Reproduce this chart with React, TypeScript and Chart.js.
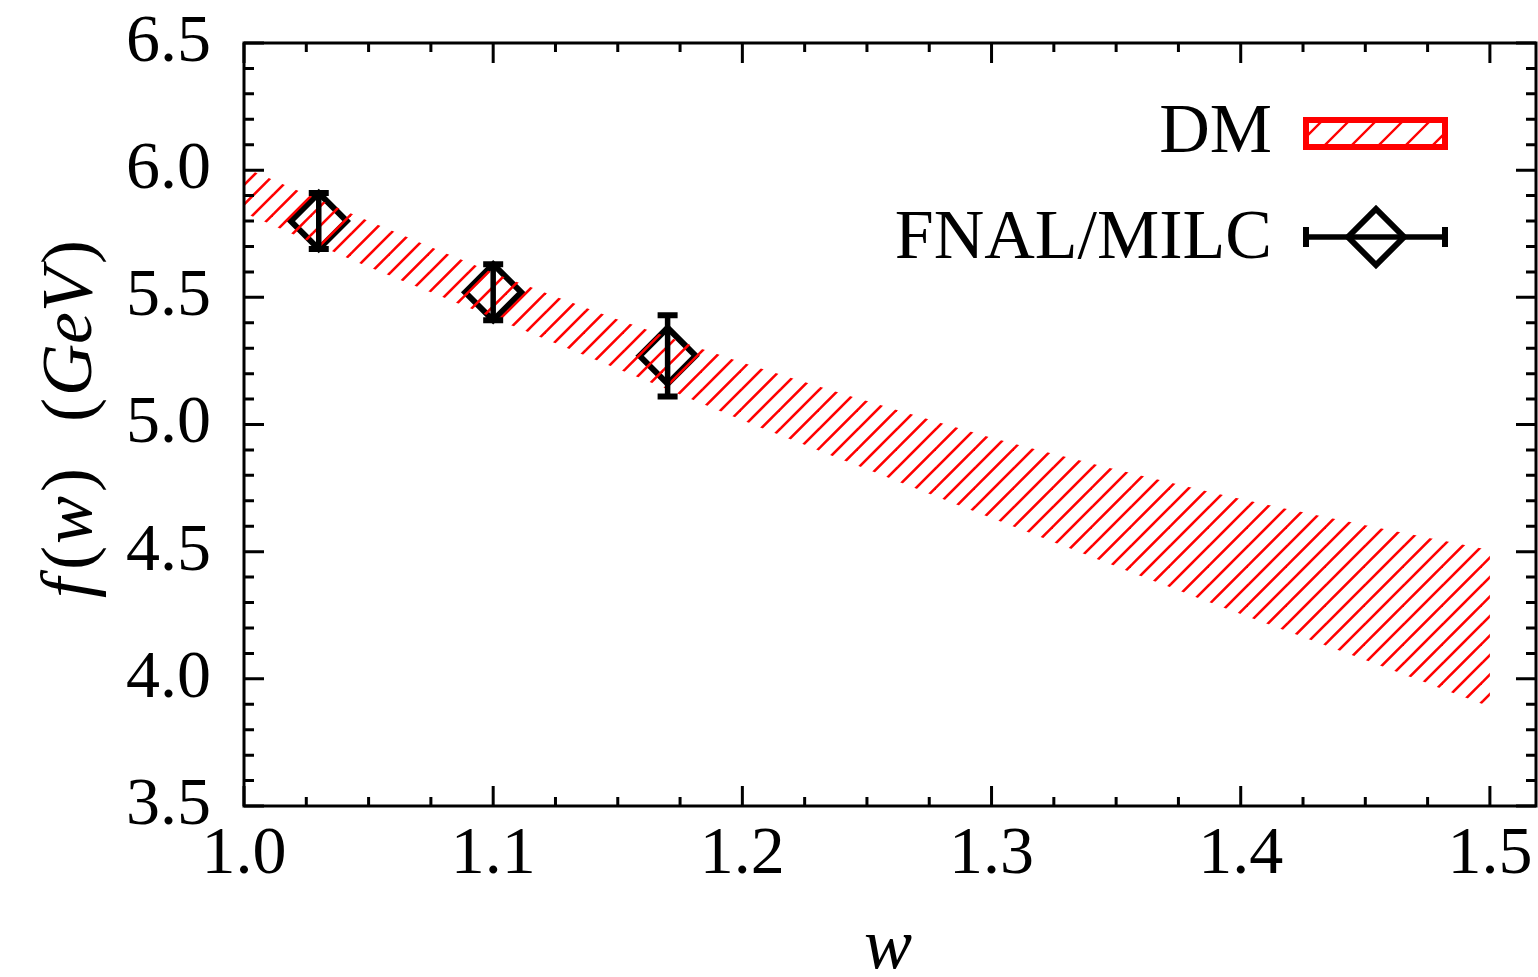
import React, { useEffect, useRef } from "react";
import { Chart, registerables } from "chart.js";

Chart.register(...registerables);

// ---- data ----
const bandW = [1.0, 1.05, 1.1, 1.15, 1.2, 1.25, 1.3, 1.35, 1.4, 1.45, 1.5];
const bandUpper = [6.01, 5.8, 5.597, 5.413, 5.244, 5.092, 4.948, 4.823, 4.707, 4.604, 4.507];
const bandLower = [5.833, 5.62, 5.42, 5.219, 5.017, 4.824, 4.632, 4.442, 4.255, 4.074, 3.89];

const latticeW = [1.03, 1.1, 1.17];
const latticeF = [5.8, 5.52, 5.27];
const latticeErr = [0.11, 0.11, 0.16];

const xMajorTicks = [1.0, 1.1, 1.2, 1.3, 1.4, 1.5];
const yMajorTicks = [3.5, 4.0, 4.5, 5.0, 5.5, 6.0, 6.5];
const xMinorStep = 0.025;
const yMinorStep = 0.1;
const xMin = 1.0;
const xMax = 1.5185;
const yMin = 3.5;
const yMax = 6.5;

const legendLabels = ["DM", "FNAL/MILC"];

const SERIF = "'Liberation Serif', 'Times New Roman', serif";
const RED = "#ff0000";

function makeHatch(): CanvasPattern | string {
  const s = 39;
  const c = document.createElement("canvas");
  c.width = s;
  c.height = s;
  const g = c.getContext("2d");
  if (!g) return RED;
  g.strokeStyle = RED;
  g.lineWidth = 2.6;
  for (const k of [0, 19.5, 39, 58.5, 78]) {
    g.beginPath();
    g.moveTo(k + 2, -2);
    g.lineTo(-2, k + 2);
    g.stroke();
  }
  const p = g.createPattern(c, "repeat");
  return p || RED;
}

const framePlugin = {
  id: "framePlugin",
  afterDatasetsDraw(chart: any) {
    const ctx = chart.ctx as CanvasRenderingContext2D;
    const xs = chart.scales.x;
    const ys = chart.scales.y;
    ctx.save();
    ctx.strokeStyle = "#000";
    for (let i = 0; i < latticeW.length; i++) {
      const px = xs.getPixelForValue(latticeW[i]);
      const pt = ys.getPixelForValue(latticeF[i] + latticeErr[i]);
      const pb = ys.getPixelForValue(latticeF[i] - latticeErr[i]);
      ctx.lineWidth = 5.5;
      ctx.beginPath();
      ctx.moveTo(px, pt);
      ctx.lineTo(px, pb);
      ctx.stroke();
      ctx.lineWidth = 6;
      ctx.beginPath();
      ctx.moveTo(px - 10, pt);
      ctx.lineTo(px + 10, pt);
      ctx.moveTo(px - 10, pb);
      ctx.lineTo(px + 10, pb);
      ctx.stroke();
    }
    ctx.restore();
  },
  afterDraw(chart: any) {
    const ctx = chart.ctx as CanvasRenderingContext2D;
    const a = chart.chartArea;
    const xs = chart.scales.x;
    const ys = chart.scales.y;
    ctx.save();
    ctx.strokeStyle = "#000";
    ctx.lineWidth = 3;
    ctx.strokeRect(a.left, a.top, a.right - a.left, a.bottom - a.top);
    ctx.lineWidth = 3;
    ctx.beginPath();
    for (let v = xMin; v <= xMax + 1e-9; v += xMinorStep) {
      const vv = Math.round(v * 1000) / 1000;
      const major = xMajorTicks.some((m) => Math.abs(m - vv) < 1e-6);
      const len = major ? 20 : 9;
      const px = xs.getPixelForValue(vv);
      ctx.moveTo(px, a.bottom);
      ctx.lineTo(px, a.bottom - len);
      ctx.moveTo(px, a.top);
      ctx.lineTo(px, a.top + len);
    }
    for (let v = yMin; v <= yMax + 1e-9; v += yMinorStep) {
      const vv = Math.round(v * 1000) / 1000;
      const major = yMajorTicks.some((m) => Math.abs(m - vv) < 1e-6);
      const len = major ? 20 : 10;
      const py = ys.getPixelForValue(vv);
      ctx.moveTo(a.left, py);
      ctx.lineTo(a.left + len, py);
      ctx.moveTo(a.right, py);
      ctx.lineTo(a.right - len, py);
    }
    ctx.stroke();

    // axis titles
    ctx.fillStyle = "#000";
    ctx.textBaseline = "alphabetic";
    ctx.textAlign = "center";
    ctx.font = `italic 72px ${SERIF}`;
    ctx.fillText("w", 888, 968);

    const parts1 = [
      { t: "f", it: true, gap: 8 },
      { t: "(", it: false, gap: 2 },
      { t: "w", it: true, gap: 4 },
      { t: ")", it: false, gap: 0 },
    ];
    const parts2 = [
      { t: "(", it: false, gap: 2 },
      { t: "GeV", it: true, gap: 4 },
      { t: ")", it: false, gap: 0 },
    ];
    ctx.save();
    ctx.translate(91, 598);
    ctx.rotate(-Math.PI / 2);
    ctx.textAlign = "left";
    const drawParts = (parts: { t: string; it: boolean; gap: number }[], x0: number) => {
      let x = x0;
      for (const p of parts) {
        ctx.font = `${p.it ? "italic " : ""}72px ${SERIF}`;
        ctx.fillText(p.t, x, 0);
        x += ctx.measureText(p.t).width + p.gap;
      }
    };
    drawParts(parts1, 0);
    drawParts(parts2, 176);
    ctx.restore();

    // legend
    ctx.font = `70px ${SERIF}`;
    ctx.textAlign = "right";
    ctx.fillText(legendLabels[0], 1272, 152);
    ctx.fillText(legendLabels[1], 1272, 258);

    const bx = 1306, by = 120, bw = 139, bh = 27;
    ctx.save();
    ctx.beginPath();
    ctx.rect(bx, by, bw, bh);
    ctx.clip();
    ctx.strokeStyle = RED;
    ctx.lineWidth = 2.4;
    ctx.beginPath();
    for (let k = bx - 10; k < bx + bw + bh + 10; k += 27) {
      ctx.moveTo(k, by);
      ctx.lineTo(k - bh - 4, by + bh + 4);
    }
    ctx.stroke();
    ctx.restore();
    ctx.strokeStyle = RED;
    ctx.lineWidth = 6;
    ctx.strokeRect(bx, by, bw, bh);

    const ly = 237;
    ctx.strokeStyle = "#000";
    ctx.lineWidth = 5.5;
    ctx.beginPath();
    ctx.moveTo(1306, ly);
    ctx.lineTo(1445, ly);
    ctx.stroke();
    ctx.lineWidth = 6;
    ctx.beginPath();
    ctx.moveTo(1306, ly - 10);
    ctx.lineTo(1306, ly + 10);
    ctx.moveTo(1445, ly - 10);
    ctx.lineTo(1445, ly + 10);
    ctx.stroke();
    ctx.lineWidth = 6;
    ctx.beginPath();
    const cx = 1376, r = 28;
    ctx.moveTo(cx - r, ly);
    ctx.lineTo(cx, ly - r);
    ctx.lineTo(cx + r, ly);
    ctx.lineTo(cx, ly + r);
    ctx.closePath();
    ctx.stroke();
    ctx.restore();
  },
};

function zeroPad(s: any) {
  s.paddingTop = 0;
  s.paddingBottom = 0;
  s.paddingLeft = 0;
  s.paddingRight = 0;
}

export default function App() {
  const ref = useRef<HTMLCanvasElement | null>(null);
  useEffect(() => {
    if (!ref.current) return;
    const hatch = makeHatch();
    const chart = new Chart(ref.current, {
      type: "line",
      data: {
        datasets: [
          {
            label: "DM lower",
            data: bandW.map((w, i) => ({ x: w, y: bandLower[i] })),
            borderWidth: 0,
            pointRadius: 0,
            fill: false,
            tension: 0.2,
          },
          {
            label: "DM",
            data: bandW.map((w, i) => ({ x: w, y: bandUpper[i] })),
            borderWidth: 0,
            pointRadius: 0,
            fill: "-1",
            backgroundColor: hatch as any,
            tension: 0.2,
          },
          {
            label: "FNAL/MILC",
            data: latticeW.map((w, i) => ({ x: w, y: latticeF[i] })),
            showLine: false,
            pointStyle: "rectRot",
            pointRadius: 28,
            pointBorderWidth: 6,
            pointBorderColor: "#000",
            pointBackgroundColor: "rgba(0,0,0,0)",
            borderColor: "#000",
          },
        ],
      },
      options: {
        responsive: false,
        animation: false,
        devicePixelRatio: 1,
        layout: { autoPadding: false, padding: { top: 43, right: 2, left: 0, bottom: 0 } },
        plugins: {
          legend: { display: false },
          tooltip: { enabled: false },
        },
        scales: {
          x: {
            type: "linear",
            min: xMin,
            max: xMax,
            grid: { display: false, drawTicks: false },
            border: { display: false },
            afterFit: (s: any) => {
              s.height = 171;
              zeroPad(s);
            },
            afterBuildTicks: (s: any) => {
              s.ticks = xMajorTicks.map((v) => ({ value: v }));
            },
            ticks: {
              padding: 8,
              color: "#000",
              font: { family: SERIF, size: 68 },
              maxRotation: 0,
              autoSkip: false,
              callback: (v: any) => Number(v).toFixed(1),
            },
          },
          y: {
            type: "linear",
            min: yMin,
            max: yMax,
            grid: { display: false, drawTicks: false },
            border: { display: false },
            afterFit: (s: any) => {
              s.width = 244;
              zeroPad(s);
            },
            afterBuildTicks: (s: any) => {
              s.ticks = yMajorTicks.map((v) => ({ value: v }));
            },
            ticks: {
              padding: 33,
              color: "#000",
              font: { family: SERIF, size: 68 },
              autoSkip: false,
              callback: (v: any) => Number(v).toFixed(1),
            },
          },
        },
      },
      plugins: [framePlugin],
    });
    return () => chart.destroy();
  }, []);
  return (
    <div style={{ position: "fixed", left: 0, top: 0, width: 1538, height: 977, background: "#fff" }}>
      <canvas ref={ref} width={1538} height={977} style={{ display: "block" }} />
    </div>
  );
}
